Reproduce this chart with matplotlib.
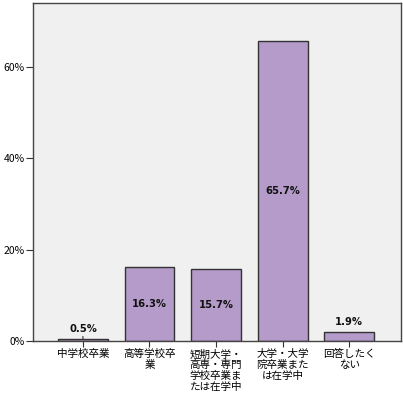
import matplotlib.pyplot as plt
from matplotlib.ticker import FuncFormatter

plt.rcParams['font.family'] = ['Noto Sans CJK JP', 'DejaVu Sans']

categories = ['中学校卒業', '高等学校卒\n業', '短期大学・\n高専・専門\n学校卒業ま\nたは在学中',
              '大学・大学\n院卒業また\nは在学中', '回答したく\nない']
values = [0.5, 16.3, 15.7, 65.7, 1.9]
yticks = [0, 20, 40, 60]

fig = plt.figure(figsize=(4.03, 3.94), dpi=100)
ax = fig.add_axes([0.082, 0.1345, 0.913, 0.8575])
ax.set_facecolor('#f0f0f0')

x = list(range(len(values)))
ax.bar(x, values, width=0.75, color='#b59bc9', edgecolor='#333333', linewidth=1)

for i, v in enumerate(values):
    if v > 5:
        ax.text(i, v / 2, f'{v}%', ha='center', va='center', fontsize=7.2,
                fontweight='bold', family='DejaVu Sans', color='#111111')
    else:
        ax.annotate(f'{v}%', xy=(i, v), xytext=(i, v + 2.2), ha='center', va='center',
                    fontsize=7.2, fontweight='bold', family='DejaVu Sans', color='#111111',
                    arrowprops=dict(arrowstyle='-', color='#333333', lw=0.8,
                                    shrinkA=3, shrinkB=0) if v < 1 else None)

ax.set_xlim(-0.75, 4.78)
ax.set_ylim(0, 74)
ax.set_yticks(yticks)
ax.yaxis.set_major_formatter(FuncFormatter(lambda v, p: f'{int(v)}%'))
ax.set_xticks(x)
ax.set_xticklabels(categories, fontsize=7.6, linespacing=1.1)
ax.tick_params(axis='y', labelsize=7.5, length=5, color='#333333', pad=1)
ax.tick_params(axis='x', length=4, color='#333333', pad=2)
for s in ax.spines.values():
    s.set_color('#444444')
    s.set_linewidth(1)

fig.savefig('out.png', dpi=100)
